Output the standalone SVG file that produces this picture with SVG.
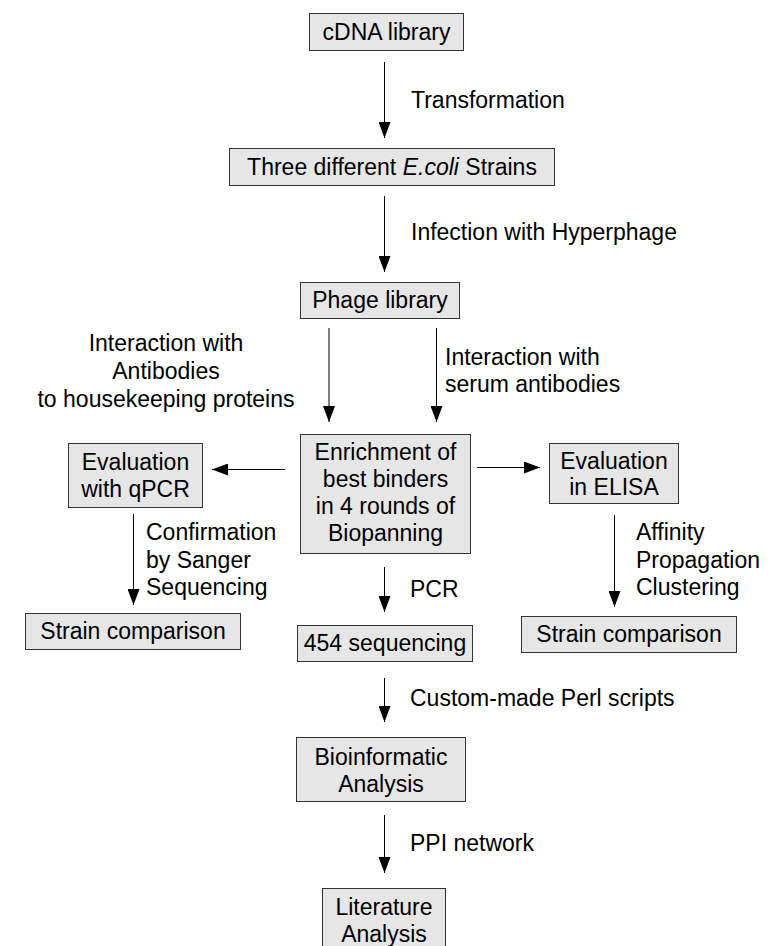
<svg xmlns="http://www.w3.org/2000/svg" width="769" height="946" viewBox="0 0 769 946">
<defs>
<marker id="ah" markerUnits="userSpaceOnUse" markerWidth="16" markerHeight="12" refX="16" refY="6" orient="auto">
<path d="M0,0 L16,6 L0,12 z" fill="#000"/>
</marker>
<style>
.box{fill:#e6e6e6;stroke:#333;stroke-width:1}
.t{font-family:"Liberation Sans",Arial,sans-serif;font-size:23px;fill:#000}
.m{text-anchor:middle}
.c line{stroke:#000;stroke-width:1;marker-end:url(#ah)}
</style>
</defs>
<rect width="769" height="946" fill="#fff"/>
<g id="cdna"><rect class="box" x="309.5" y="13.5" width="154" height="37"/><text class="t m" x="386.5" y="40">cDNA library</text></g>
<g id="ecoli"><rect class="box" x="229.5" y="148.5" width="325" height="37"/><text class="t m" x="392" y="175">Three different <tspan font-style="italic">E.coli</tspan> Strains</text></g>
<g id="phage"><rect class="box" x="300.5" y="282.5" width="159" height="36"/><text class="t m" x="380" y="308">Phage library</text></g>
<g id="enrich"><rect class="box" x="300.5" y="434.5" width="170" height="119"/>
<text class="t m" x="385.5" y="460">Enrichment of</text>
<text class="t m" x="385.5" y="487">best binders</text>
<text class="t m" x="385.5" y="514">in 4 rounds of</text>
<text class="t m" x="385.5" y="541">Biopanning</text></g>
<g id="qpcr"><rect class="box" x="68.5" y="443.5" width="134" height="64"/>
<text class="t m" x="135.5" y="470">Evaluation</text>
<text class="t m" x="135.5" y="497">with qPCR</text></g>
<g id="elisa"><rect class="box" x="549.5" y="443.5" width="129" height="60"/>
<text class="t m" x="614" y="469">Evaluation</text>
<text class="t m" x="614" y="495">in ELISA</text></g>
<g id="strainL"><rect class="box" x="25.5" y="613.5" width="215" height="36"/><text class="t m" x="133" y="639">Strain comparison</text></g>
<g id="seq454"><rect class="box" x="297.5" y="625.5" width="175" height="36"/><text class="t m" x="385" y="651">454 sequencing</text></g>
<g id="strainR"><rect class="box" x="521.5" y="616.5" width="215" height="36"/><text class="t m" x="629" y="642">Strain comparison</text></g>
<g id="bioinf"><rect class="box" x="296.5" y="737.5" width="169" height="64"/>
<text class="t m" x="381" y="765">Bioinformatic</text>
<text class="t m" x="381" y="792">Analysis</text></g>
<g id="lit"><rect class="box" x="322.5" y="888.5" width="123" height="64"/>
<text class="t m" x="384" y="915">Literature</text>
<text class="t m" x="384" y="942">Analysis</text></g>
<g class="c" id="connectors">
<line x1="384.5" y1="62" x2="384.5" y2="138"/>
<line x1="384.5" y1="196" x2="384.5" y2="272"/>
<line x1="329" y1="328" x2="329" y2="422"/>
<line x1="436.5" y1="328" x2="436.5" y2="422"/>
<line x1="285" y1="469.5" x2="212" y2="469.5"/>
<line x1="477" y1="467.5" x2="540" y2="467.5"/>
<line x1="133.5" y1="514" x2="133.5" y2="605"/>
<line x1="614.5" y1="515" x2="614.5" y2="607"/>
<line x1="384.5" y1="567" x2="384.5" y2="612"/>
<line x1="384.5" y1="678" x2="384.5" y2="722"/>
<line x1="384.5" y1="815" x2="384.5" y2="873"/>
</g>
<g id="labels">
<text class="t" x="411" y="108">Transformation</text>
<text class="t" x="411" y="240">Infection with Hyperphage</text>
<text class="t m" x="166" y="351">Interaction with</text>
<text class="t m" x="166" y="379">Antibodies</text>
<text class="t m" x="166" y="407">to housekeeping proteins</text>
<text class="t" x="445" y="365">Interaction with</text>
<text class="t" x="445" y="392">serum antibodies</text>
<text class="t" x="146" y="540">Confirmation</text>
<text class="t" x="146" y="568">by Sanger</text>
<text class="t" x="146" y="595">Sequencing</text>
<text class="t" x="410" y="597">PCR</text>
<text class="t" x="636" y="540">Affinity</text>
<text class="t" x="636" y="568">Propagation</text>
<text class="t" x="636" y="595">Clustering</text>
<text class="t" x="410" y="706">Custom-made Perl scripts</text>
<text class="t" x="410" y="851">PPI network</text>
</g>
</svg>
